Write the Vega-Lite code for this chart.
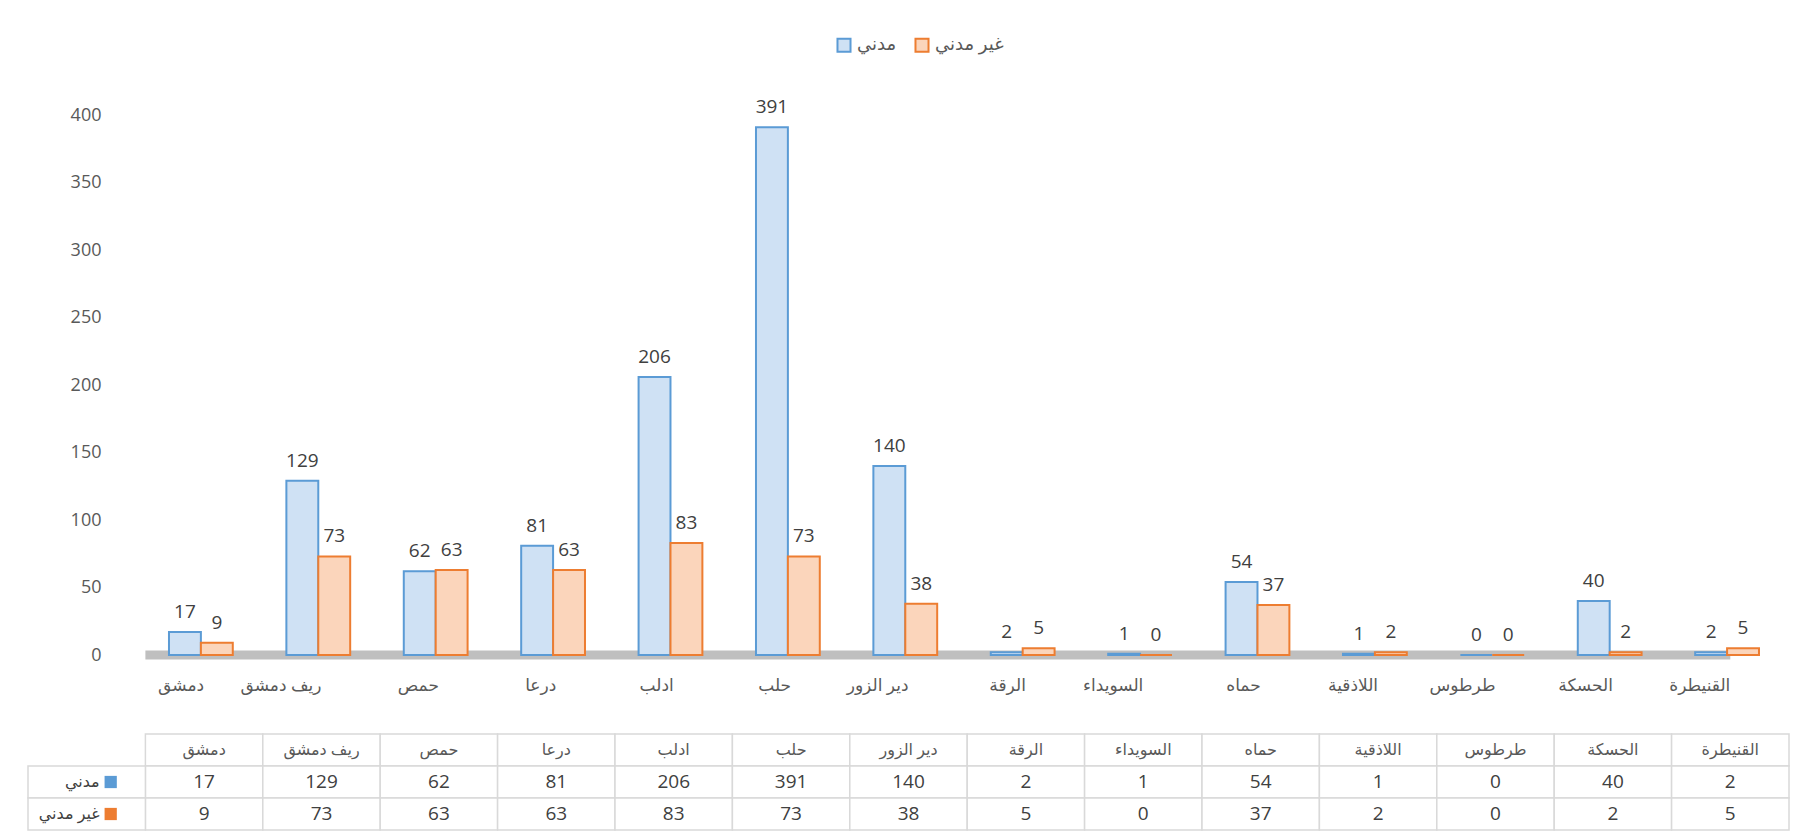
{
  "$schema": "https://vega.github.io/schema/vega-lite/v6.json",
  "padding": {"left": 27, "top": 36, "right": 7, "bottom": 9},
  "background": "white",
  "spacing": 40,
  "config": {"view": {"stroke": null}, "font": "Open Sans, DejaVu Sans, sans-serif"},
  "datasets": {
    "d": [
      {"gov": "دمشق", "series": "مدني", "value": 17},
      {"gov": "دمشق", "series": "غير مدني", "value": 9},
      {"gov": "ريف دمشق", "series": "مدني", "value": 129},
      {"gov": "ريف دمشق", "series": "غير مدني", "value": 73},
      {"gov": "حمص", "series": "مدني", "value": 62},
      {"gov": "حمص", "series": "غير مدني", "value": 63},
      {"gov": "درعا", "series": "مدني", "value": 81},
      {"gov": "درعا", "series": "غير مدني", "value": 63},
      {"gov": "ادلب", "series": "مدني", "value": 206},
      {"gov": "ادلب", "series": "غير مدني", "value": 83},
      {"gov": "حلب", "series": "مدني", "value": 391},
      {"gov": "حلب", "series": "غير مدني", "value": 73},
      {"gov": "دير الزور", "series": "مدني", "value": 140},
      {"gov": "دير الزور", "series": "غير مدني", "value": 38},
      {"gov": "الرقة", "series": "مدني", "value": 2},
      {"gov": "الرقة", "series": "غير مدني", "value": 5},
      {"gov": "السويداء", "series": "مدني", "value": 1},
      {"gov": "السويداء", "series": "غير مدني", "value": 0},
      {"gov": "حماه", "series": "مدني", "value": 54},
      {"gov": "حماه", "series": "غير مدني", "value": 37},
      {"gov": "اللاذقية", "series": "مدني", "value": 1},
      {"gov": "اللاذقية", "series": "غير مدني", "value": 2},
      {"gov": "طرطوس", "series": "مدني", "value": 0},
      {"gov": "طرطوس", "series": "غير مدني", "value": 0},
      {"gov": "الحسكة", "series": "مدني", "value": 40},
      {"gov": "الحسكة", "series": "غير مدني", "value": 2},
      {"gov": "القنيطرة", "series": "مدني", "value": 2},
      {"gov": "القنيطرة", "series": "غير مدني", "value": 5}
    ]
  },
  "vconcat": [
    {
      "width": 1761,
      "height": 540,
      "layer": [
        {
          "data": {"values": [{}]},
          "mark": {"type": "rule", "color": "#bfbfbf", "strokeWidth": 9},
          "encoding": {
            "x": {"datum": "دمشق", "type": "nominal", "bandPosition": 0},
            "x2": {"datum": "القنيطرة"},
            "y": {"datum": 0, "type": "quantitative"}
          }
        },
        {
          "data": {"name": "d"},
          "mark": {"type": "bar", "strokeWidth": 2},
          "encoding": {
            "x": {
              "field": "gov", "type": "nominal",
              "scale": {"domain": ["_", "دمشق", "ريف دمشق", "حمص", "درعا", "ادلب", "حلب", "دير الزور", "الرقة", "السويداء", "حماه", "اللاذقية", "طرطوس", "الحسكة", "القنيطرة"], "paddingInner": 0, "paddingOuter": 0},
              "axis": {"title": null, "domain": false, "ticks": false, "labelAngle": 0, "labelPadding": 30, "labelFontSize": 17, "labelColor": "#595959", "labelExpr": "datum.value == '_' ? '' : datum.value"}
            },
            "xOffset": {"field": "series", "type": "nominal", "scale": {"domain": ["مدني", "غير مدني"], "paddingOuter": 0.84, "paddingInner": 0, "align": 0.44}},
            "y": {
              "field": "value", "type": "quantitative",
              "scale": {"domain": [0, 400], "nice": false},
              "axis": {"title": null, "domain": false, "ticks": false, "grid": false, "offset": -77, "labelPadding": 4, "labelFontSize": 18, "labelColor": "#595959", "values": [0, 50, 100, 150, 200, 250, 300, 350, 400]}
            },
            "color": {
              "field": "series", "type": "nominal",
              "scale": {"domain": ["مدني", "غير مدني"], "range": ["#cfe1f4", "#fbd5bb"]},
              "legend": {"title": null, "orient": "none", "legendX": 807, "legendY": -79, "direction": "horizontal", "symbolType": "square", "symbolSize": 170, "symbolStrokeWidth": 2, "labelFontSize": 18, "labelColor": "#595959", "columnPadding": 14}
            },
            "stroke": {
              "field": "series", "type": "nominal",
              "scale": {"domain": ["مدني", "غير مدني"], "range": ["#5b9bd5", "#ed7d31"]},
              "legend": {"title": null, "orient": "none", "legendX": 807, "legendY": -79, "direction": "horizontal", "symbolType": "square", "symbolSize": 170, "symbolStrokeWidth": 2, "labelFontSize": 18, "labelColor": "#595959", "columnPadding": 14}
            }
          }
        },
        {
          "data": {"name": "d"},
          "mark": {"type": "text", "baseline": "bottom", "dy": -10, "fontSize": 19, "color": "#404040"},
          "encoding": {
            "x": {"field": "gov", "type": "nominal"},
            "xOffset": {"field": "series", "type": "nominal"},
            "y": {"field": "value", "type": "quantitative"},
            "text": {"field": "value", "type": "quantitative"}
          }
        }
      ]
    },
    {
      "width": 1761,
      "height": 96,
      "data": {"name": "d"},
      "layer": [
        {
          "transform": [{"filter": "datum.series == 'مدني'"}],
          "mark": {"type": "rect", "fill": "white", "stroke": "#d9d9d9", "strokeWidth": 1.5},
          "encoding": {
            "x": {"field": "gov", "type": "nominal", "scale": {"domain": ["_", "دمشق", "ريف دمشق", "حمص", "درعا", "ادلب", "حلب", "دير الزور", "الرقة", "السويداء", "حماه", "اللاذقية", "طرطوس", "الحسكة", "القنيطرة"], "paddingInner": 0, "paddingOuter": 0}, "axis": null},
            "y": {"datum": "hdr", "type": "nominal", "scale": {"domain": ["hdr", "مدني", "غير مدني"], "paddingInner": 0, "paddingOuter": 0}, "axis": null}
          }
        },
        {
          "mark": {"type": "rect", "fill": "white", "stroke": "#d9d9d9", "strokeWidth": 1.5},
          "encoding": {
            "x": {"field": "gov", "type": "nominal"},
            "y": {"field": "series", "type": "nominal"}
          }
        },
        {
          "transform": [{"filter": "datum.gov == 'دمشق'"}],
          "mark": {"type": "rect", "fill": "white", "stroke": "#d9d9d9", "strokeWidth": 1.5},
          "encoding": {
            "x": {"datum": "_", "type": "nominal"},
            "y": {"field": "series", "type": "nominal"}
          }
        },
        {
          "transform": [{"filter": "datum.series == 'مدني'"}],
          "mark": {"type": "text", "fontSize": 16, "color": "#595959"},
          "encoding": {
            "x": {"field": "gov", "type": "nominal"},
            "y": {"datum": "hdr", "type": "nominal"},
            "text": {"field": "gov", "type": "nominal"}
          }
        },
        {
          "mark": {"type": "text", "fontSize": 19, "color": "#404040"},
          "encoding": {
            "x": {"field": "gov", "type": "nominal"},
            "y": {"field": "series", "type": "nominal"},
            "text": {"field": "value", "type": "quantitative"}
          }
        },
        {
          "transform": [{"filter": "datum.gov == 'دمشق'"}],
          "mark": {"type": "text", "fontSize": 16, "color": "#404040", "align": "right", "dx": 13},
          "encoding": {
            "x": {"datum": "_", "type": "nominal"},
            "y": {"field": "series", "type": "nominal"},
            "text": {"field": "series", "type": "nominal"}
          }
        },
        {
          "transform": [{"filter": "datum.gov == 'دمشق' && datum.series == 'مدني'"}],
          "mark": {"type": "point", "shape": "square", "filled": true, "size": 150, "color": "#5b9bd5", "opacity": 1, "xOffset": 24},
          "encoding": {
            "x": {"datum": "_", "type": "nominal"},
            "y": {"field": "series", "type": "nominal"}
          }
        },
        {
          "transform": [{"filter": "datum.gov == 'دمشق' && datum.series == 'غير مدني'"}],
          "mark": {"type": "point", "shape": "square", "filled": true, "size": 150, "color": "#ed7d31", "opacity": 1, "xOffset": 24},
          "encoding": {
            "x": {"datum": "_", "type": "nominal"},
            "y": {"field": "series", "type": "nominal"}
          }
        }
      ]
    }
  ]
}
